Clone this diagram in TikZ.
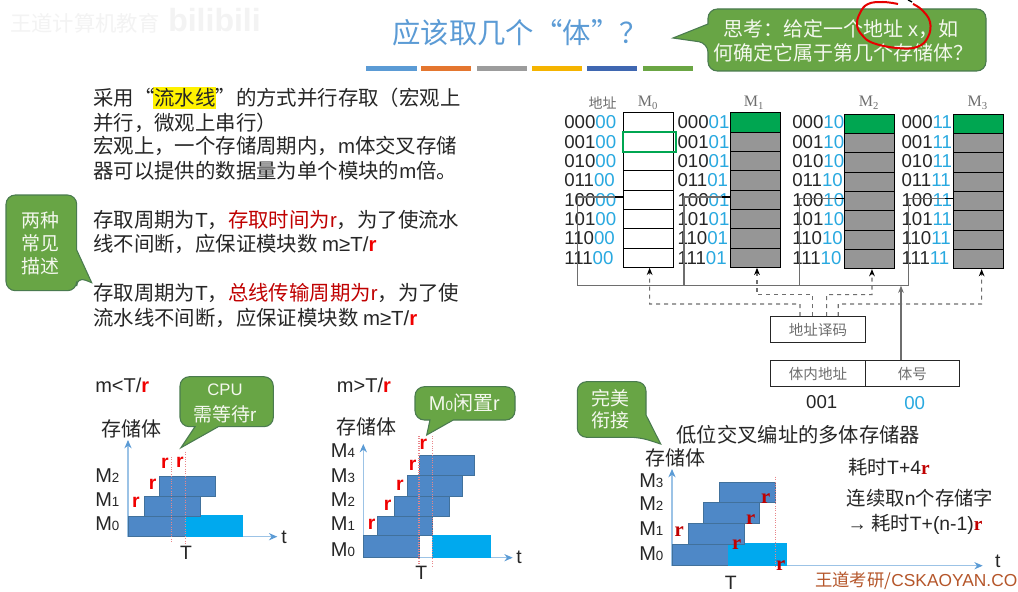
\documentclass[tikz,border=0pt]{standalone}
\usepackage{fontspec}
\setmainfont{Noto Sans CJK SC}
\newfontfamily\lsans{Liberation Sans}
\newfontfamily\lserif{Liberation Serif}
\usetikzlibrary{arrows.meta,calc,positioning}
\definecolor{SlideInk}{HTML}{262626}
\definecolor{SlideBlue}{HTML}{5B9BD5}
\definecolor{SlideCyan}{HTML}{29A9E0}
\definecolor{SlideRed}{HTML}{C00000}
\definecolor{SlideBright}{HTML}{F00000}
\definecolor{CalloutFill}{HTML}{68A545}
\definecolor{CalloutEdge}{HTML}{4A7B4F}
\definecolor{CalloutText}{HTML}{F4F8EE}
\definecolor{CellGray}{HTML}{969696}
\definecolor{CellGreen}{HTML}{00A651}
\definecolor{BusGray}{HTML}{6E6E6E}
\definecolor{BarDark}{HTML}{4E88C7}
\definecolor{BarEdge}{HTML}{41719C}
\definecolor{BarLight}{HTML}{00A9EE}
\definecolor{AxisLine}{HTML}{9CC3E6}
\definecolor{MarkDotted}{HTML}{E8868A}
\definecolor{Brand}{HTML}{B5562A}
\definecolor{GhostGray}{HTML}{F3F3F3}
\newcommand{\redr}{{\lsans\bfseries\color{SlideBright}r}}
\newcommand{\mem}[1]{{\lsans M{\fontsize{10}{10}\selectfont #1}}}
\tikzset{
  every node/.style={inner sep=0pt, text=SlideInk},
  bodytext/.style={anchor=west, font=\fontsize{15.3}{18}\selectfont},
  chartname/.style={font=\fontsize{15}{18}\selectfont},
  notetext/.style={anchor=west, font=\fontsize{14.5}{18}\selectfont},
  memlabel/.style={anchor=west, font=\fontsize{15}{16}\selectfont},
  formula/.style={anchor=west, font=\lsans\fontsize{15}{16}\selectfont},
  axisname/.style={font=\lsans\fontsize{14.5}{16}\selectfont},
  rmark/.style={font=\lsans\bfseries\fontsize{14.5}{16}\selectfont, text=SlideBright},
  rserif/.style={font=\lserif\bfseries\fontsize{15.5}{16}\selectfont, text=SlideRed},
  callout/.style={draw=CalloutEdge, fill=CalloutFill, line width=0.8pt},
  callouttext/.style={text=CalloutText, font=\fontsize{14.2}{18}\selectfont},
  asktext/.style={text=CalloutText, font=\fontsize{15}{18}\selectfont},
  busy/.style={draw=BarEdge, fill=BarDark, line width=0.6pt},
  idle/.style={draw=BarLight, fill=BarLight, line width=0.6pt},
  axis/.style={-{Stealth[length=2.2mm,width=1.9mm,color=SlideBlue]}, draw=AxisLine, line width=0.8pt},
  markline/.style={draw=MarkDotted, line width=0.8pt, densely dotted},
  cell/.style={draw=black, line width=0.7pt, minimum width=37.5pt, minimum height=14.5pt},
  addr/.style={anchor=west, font=\lsans\fontsize{14}{16}\selectfont},
  head/.style={font=\lserif\fontsize{12}{13}\selectfont, text=BusGray},
  bus/.style={draw=BusGray, line width=0.8pt},
  select/.style={-{Stealth[length=1.9mm,width=1.5mm,color=black]}, draw=BusGray, line width=0.8pt, dashed},
  boxed/.style={draw=SlideInk, line width=0.7pt, minimum height=19.2pt, font=\fontsize{10.9}{12}\selectfont, text=BusGray},
}
\begin{document}
\begin{tikzpicture}[x=0.75pt,y=-0.75pt]
  \useasboundingbox (0,0) rectangle (1018,592);
  \fill[white] (0,0) rectangle (1018,592);

  % Faint channel mark, top left
  \node[anchor=west, text=GhostGray, font=\fontsize{16}{18}\selectfont] (mark) at (10,23) {王道计算机教育};
  \node[anchor=west, text=GhostGray, font=\lsans\bfseries\fontsize{24}{26}\selectfont] (site) at (168,20) {bilibili};

  % Title and the coloured rule under it
  \node[text=SlideBlue, font=\fontsize{21.3}{24}\selectfont] (title) at (520,33) {应该取几个“体”？};
  \foreach \xa/\xb/\tone in {366/417/5B9BD5,421/471/E4762F,477/527/9C9C9C,532/582/F5B400,587/637/3F67B1,643/693/6BA644}{
    \definecolor{ruletone}{HTML}{\tone}
    \fill[ruletone] (\xa,66) rectangle (\xb,71);
  }

  % Question callout, top right
  \draw[callout] (708,24) [rounded corners=7pt] -- (708,9) -- (986,9) -- (986,71) -- (708,71) -- (708,43) [sharp corners] -- (673,38) -- cycle;
  \node[asktext] (askA) at (841,29) {思考：给定一个地址 {\lsans x}，如};
  \node[asktext] (askB) at (843,53) {何确定它属于第几个存储体？};
  \draw[red!90!black, line width=1.5pt] plot[smooth, tension=0.7] coordinates {(898,4) (883,2) (868,4) (860,13) (857,25) (862,35) (873,43) (897,48) (917,47) (928,37) (930,22) (922,10) (913,4)};
  \draw[black, line width=1pt] (908,0) -- (912,2);

  % Body text, left column
  \fill[yellow] (153,87) rectangle (216,109);
  \node[bodytext] (lineA) at (93,98) {采用“流水线”的方式并行存取（宏观上};
  \node[bodytext] (lineB) at (93,123) {并行，微观上串行）};
  \node[bodytext] (lineC) at (93,146) {宏观上，一个存储周期内，{\lsans m}体交叉存储};
  \node[bodytext] (lineD) at (93,171) {器可以提供的数据量为单个模块的{\lsans m}倍。};
  \node[bodytext] (lineE) at (93,220) {存取周期为{\lsans T}，{\color{SlideRed}存取时间为{\lsans r}}，为了使流水};
  \node[bodytext] (lineF) at (93,244) {线不间断，应保证模块数 {\lsans m≥T/}\redr};
  \node[bodytext] (lineG) at (93,293) {存取周期为{\lsans T}，{\color{SlideRed}总线传输周期为{\lsans r}}，为了使};
  \node[bodytext] (lineH) at (93,318) {流水线不间断，应保证模块数 {\lsans m≥T/}\redr};

  % Side callout
  \draw[callout] (76.7,250) [rounded corners=7pt] -- (76.7,195) -- (6,195) -- (6,290.7) -- (76.7,290.7) -- (76.7,276.7) [sharp corners] -- (91.7,282.7) -- cycle;
  \node[callouttext] (sideA) at (40.7,220) {两种};
  \node[callouttext] (sideB) at (40.7,243) {常见};
  \node[callouttext] (sideC) at (40.7,266.7) {描述};

  % Address columns
  \node[font=\fontsize{10.5}{12}\selectfont, text=BusGray] (addrhead) at (602.7,102.7) {地址};
  \foreach \col/\xleft/\tag in {0/564/00,1/677.3/01,2/792/10,3/901.3/11}{
    \foreach \row/\high in {1/000,2/001,3/010,4/011,5/100,6/101,7/110,8/111}{
      \node[addr] (addr\col r\row) at (\xleft,{103+19.33*\row}) {\high{\color{SlideCyan}\tag}};
    }
  }

  % Memory banks
  \foreach \row in {1,...,8}{
    \node[cell, fill=white] (m0c\row) at (648.3,{112.7+19.33*(\row-0.5)}) {};
  }
  \foreach \col/\xmid/\ytop in {1/755/112.7,2/869.3/114,3/978.7/114}{
    \foreach \row/\shade in {1/CellGreen,2/CellGray,3/CellGray,4/CellGray,5/CellGray,6/CellGray,7/CellGray,8/CellGray}{
      \node[cell, fill=\shade] (m\col c\row) at (\xmid,{\ytop+19.33*(\row-0.5)}) {};
    }
  }
  \draw[CellGreen, line width=1.5pt] (m0c2.north west) rectangle ([xshift=1.5pt]m0c2.south east);
  \node[head] (headA) at (648,102.7) {M\textsubscript{0}};
  \node[head] (headB) at (754,102.7) {M\textsubscript{1}};
  \node[head] (headC) at (869,102.7) {M\textsubscript{2}};
  \node[head] (headD) at (977.7,102.7) {M\textsubscript{3}};

  % Shared bus with the stubs to every bank
  \coordinate (busL) at (577.3,285.7);
  \coordinate (busR) at (908.3,285.7);
  \draw[bus] (busL) -- (busR);
  \foreach \col/\xs in {0/577.3,1/684,2/799.3,3/908.3}{
    \draw[bus] (\xs,285.7) |- ([yshift=2pt]m\col c5.west);
    \draw[black, line width=0.8pt] ([xshift=-6pt,yshift=2pt]m\col c5.west) -- ([yshift=2pt]m\col c5.west);
  }

  % Decoder and address word
  \node[boxed, minimum width=71pt] (decode) at (818,329.5) {地址译码};
  \node[boxed, minimum width=71pt] (inbank) at (818,373.5) {体内地址};
  \node[boxed, minimum width=70.5pt] (bankid) at (912.3,373.5) {体号};
  \node[font=\lsans\fontsize{14}{16}\selectfont] (valA) at (821.7,401.7) {001};
  \node[font=\lsans\fontsize{14}{16}\selectfont, text=SlideCyan] (valB) at (914.7,403.3) {00};
  \draw[bus, -{Stealth[length=1.9mm,width=1.5mm]}] ([xshift=-8.5pt]bankid.north) -- ([xshift=-8.5pt]bankid.north |- busR);

  % Selection lines from the decoder
  \coordinate (tapA) at ([xshift=-13.5pt]decode.north);
  \coordinate (tapB) at ([xshift=-4.3pt]decode.north);
  \coordinate (tapC) at ([xshift=6.5pt]decode.north);
  \coordinate (tapD) at ([xshift=15.2pt]decode.north);
  \coordinate (trackA) at (649.7,304);
  \coordinate (trackB) at (757,294.7);
  \coordinate (trackC) at (872,294.7);
  \coordinate (trackD) at (981.7,304);
  \draw[select] (tapA) |- (trackA) -- ([xshift=1pt]m0c8.south);
  \draw[select] (tapB) |- (trackB) -- ([xshift=1.5pt]m1c8.south);
  \draw[select] (tapC) |- (trackC) -- ([xshift=2pt]m2c8.south);
  \draw[select] (tapD) |- (trackD) -- ([xshift=2.2pt]m3c8.south);

  % Chart for m<T/r
  \node[formula] (condA) at (95,385.7) {m<T/\redr};
  \draw[callout] (195,426.7) -- (181,447.7) -- (218.3,426.7) [rounded corners=7pt] -- (273.3,426.7) -- (273.3,376.7) -- (180,376.7) -- (180,426.7) [sharp corners] -- cycle;
  \node[callouttext, font=\lsans\fontsize{12.5}{14}\selectfont] (waitA) at (225,390) {CPU};
  \node[callouttext] (waitB) at (225,414) {需等待{\lsans r}};
  \node[chartname] (bankA) at (131.7,429.3) {存储体};
  \coordinate (originA) at (128,536.7);
  \coordinate (endAy) at (128,440);
  \coordinate (endAx) at (277.3,536.7);
  \draw[axis] (originA) -- (endAy);
  \draw[axis] (originA) -- (endAx);
  \draw[busy] (128,516) rectangle (185,536.7);
  \draw[idle] (185,515) rectangle (242.7,536.7);
  \draw[busy] (144.7,496) rectangle (200,516);
  \draw[busy] (159.3,476) rectangle (215.7,496);
  \draw[markline] (171.7,457) -- (171.7,543);
  \draw[markline] (185.3,451.7) -- (185.3,543);
  \node[memlabel] (memA0) at (95,524) {\mem{0}};
  \node[memlabel] (memA1) at (95,500) {\mem{1}};
  \node[memlabel] (memA2) at (95,475.7) {\mem{2}};
  \node[rmark] (rA1) at (136,502.7) {r};
  \node[rmark] (rA2) at (152.7,484.3) {r};
  \node[rmark] (rA3) at (165,463.3) {r};
  \node[rmark] (rA4) at (180,462.3) {r};
  \node[axisname] (timeA) at (186,553.3) {T};
  \node[axisname] (axisA) at (284,537.7) {t};

  % Chart for m>T/r
  \node[formula] (condB) at (336.7,385.7) {m>T/\redr};
  \draw[callout] (430,420) -- (426.7,435) -- (453.3,420) [rounded corners=7pt] -- (515,420) -- (515,386.7) -- (415,386.7) -- (415,420) [sharp corners] -- cycle;
  \node[callouttext, font=\fontsize{15}{18}\selectfont] (idleA) at (464.3,403.3) {{\lsans M{\fontsize{10}{10}\selectfont 0}}闲置{\lsans r}};
  \node[chartname] (bankB) at (366.7,427.3) {存储体};
  \coordinate (originB) at (363.3,557.7);
  \coordinate (endBy) at (363.3,444);
  \coordinate (endBx) at (512.7,557.7);
  \draw[axis] (originB) -- (endBy);
  \draw[axis] (originB) -- (endBx);
  \draw[busy] (363.3,535.7) rectangle (419,557.7);
  \draw[idle] (432.7,535.7) rectangle (490.7,557.7);
  \foreach \xa/\xb/\ya/\yb in {377/432.7/516/535.7,394/449.3/496/516,407/462.7/475.3/496,419/474.3/455.3/475.3}{
    \draw[busy] (\xa,\ya) rectangle (\xb,\yb);
  }
  \draw[markline] (419,436) -- (419,566);
  \draw[markline] (432.7,436) -- (432.7,566);
  \node[memlabel] (memB0) at (330.7,549.3) {\mem{0}};
  \node[memlabel] (memB1) at (330.7,524) {\mem{1}};
  \node[memlabel] (memB2) at (330.7,500) {\mem{2}};
  \node[memlabel] (memB3) at (330.7,476) {\mem{3}};
  \node[memlabel] (memB4) at (330.7,451) {\mem{4}};
  \node[rmark] (rB1) at (423.3,444) {r};
  \node[rmark] (rB2) at (412.7,465) {r};
  \node[rmark] (rB3) at (400,485) {r};
  \node[rmark] (rB4) at (387.7,505) {r};
  \node[rmark] (rB5) at (371.7,524) {r};
  \node[axisname] (timeB) at (421.3,572.7) {T};
  \node[axisname] (axisB) at (519,557.7) {t};

  % Chart for the matched case
  \draw[callout] (646,415) [rounded corners=7pt] -- (646,381.7) -- (577.3,381.7) -- (577.3,437.3) -- (640,437.3) [sharp corners] -- (660.7,444) -- cycle;
  \node[callouttext] (fitA) at (610.7,398.3) {完美};
  \node[callouttext] (fitB) at (610.7,420) {衔接};
  \node[font=\fontsize{15.2}{18}\selectfont] (chartcap) at (798.3,435) {低位交叉编址的多体存储器};
  \node[chartname] (bankC) at (675,457.7) {存储体};
  \coordinate (originC) at (672,565.7);
  \coordinate (endCy) at (672,469);
  \coordinate (endCx) at (982.7,565.7);
  \draw[axis] (originC) -- (endCy);
  \draw[axis] (originC) -- (endCx);
  \draw[busy] (672,544.3) rectangle (728.3,565);
  \draw[idle] (728.3,543.3) rectangle (786,565);
  \foreach \xa/\xb/\ya/\yb in {688.7/744.7/523.3/544.3,703.3/759.3/502.3/523.3,719.7/775.7/482.3/502.3}{
    \draw[busy] (\xa,\ya) rectangle (\xb,\yb);
  }
  \draw[markline] (775.7,476.7) -- (775.7,565.7);
  \node[memlabel] (memC0) at (639,553.3) {\mem{0}};
  \node[memlabel] (memC1) at (639,529) {\mem{1}};
  \node[memlabel] (memC2) at (639,503.3) {\mem{2}};
  \node[memlabel] (memC3) at (639,481) {\mem{3}};
  \node[rserif] (rC1) at (679.3,531.7) {r};
  \node[rserif] (rC2) at (736.7,544.3) {r};
  \node[rserif] (rC3) at (750.7,519.3) {r};
  \node[rserif] (rC4) at (765.7,498.3) {r};
  \node[rserif] (rC5) at (780.7,565.7) {r};
  \node[axisname] (timeC) at (730.7,583) {T};
  \node[axisname] (axisC) at (997.7,561.7) {t};
  \node[notetext] (noteA) at (848.3,467.3) {耗时{\lsans T+4}{\lserif\bfseries\color{SlideRed}r}};
  \node[notetext] (noteB) at (846.7,498.3) {连续取{\lsans n}个存储字};
  \node[notetext] (noteC) at (847.3,524) {{\lsans\bfseries →} 耗时{\lsans T+(n-1)}{\lserif\bfseries\color{SlideRed}r}};

  % Site line, bottom right
  \node[anchor=west, text=Brand, font=\fontsize{13}{16}\selectfont] (brand) at (815,581) {王道考研/{\lsans CSKAOYAN.CO}};
\end{tikzpicture}
\end{document}
